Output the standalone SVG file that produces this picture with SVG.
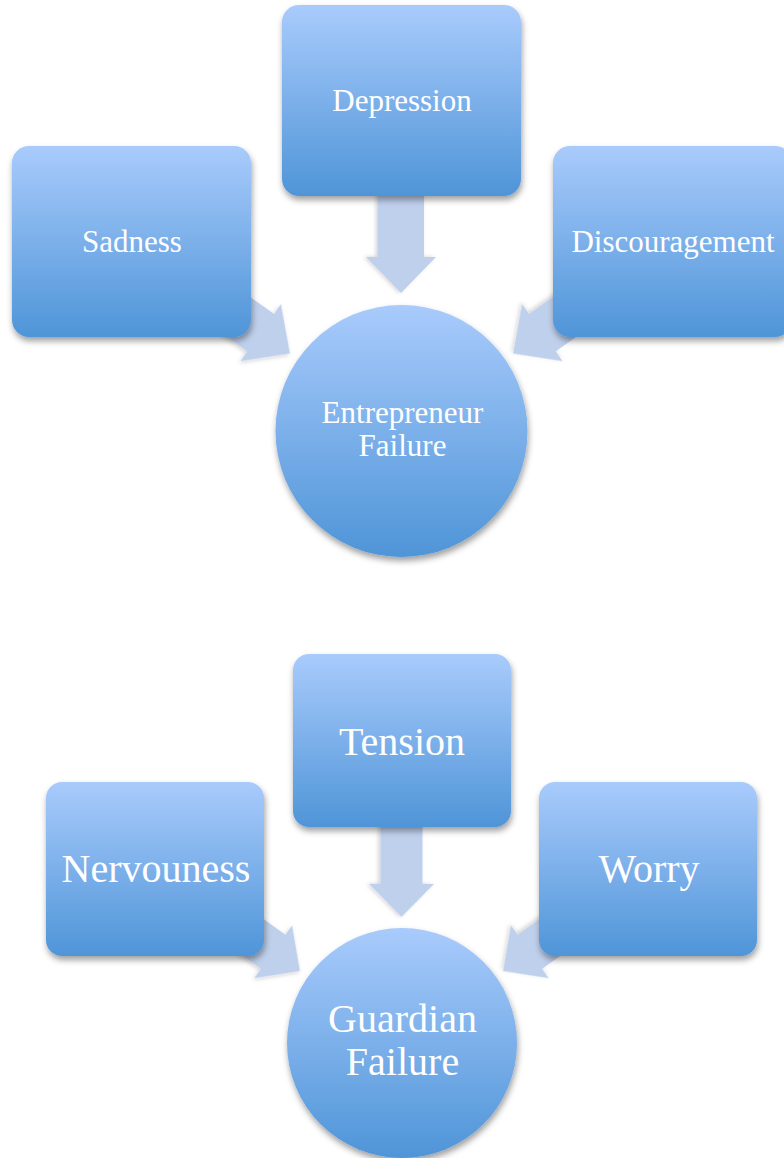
<svg xmlns="http://www.w3.org/2000/svg" width="784" height="1158" viewBox="0 0 784 1158">
<defs>
<linearGradient id="g" x1="0" y1="0" x2="0" y2="1">
<stop offset="0" stop-color="#a9cbfc"/>
<stop offset="1" stop-color="#4f95d8"/>
</linearGradient>
<filter id="sh" x="-20%" y="-20%" width="140%" height="140%">
<feDropShadow dx="1" dy="4" stdDeviation="3" flood-color="#000" flood-opacity="0.38"/>
</filter>
<filter id="sha" x="-20%" y="-20%" width="140%" height="140%">
<feDropShadow dx="0" dy="2" stdDeviation="2" flood-color="#000" flood-opacity="0.18"/>
</filter>
<path id="arrowA" d="M -110,-23 L -36,-23 L -36,-35 L 0,0 L -36,35 L -36,23 L -110,23 Z"/>
<path id="arrowB" d="M -100,-21 L -33,-21 L -33,-32.5 L 0,0 L -33,32.5 L -33,21 L -100,21 Z"/>
</defs>
<style>
.node { fill: url(#g); filter: url(#sh); }
.arr { fill: #bfd0ec; filter: url(#sha); }
.t1 { font-family: "Liberation Serif", "Times New Roman", serif; font-size: 31px; fill: #ffffff; text-anchor: middle; }
.t2 { font-family: "Liberation Serif", "Times New Roman", serif; font-size: 40px; fill: #ffffff; text-anchor: middle; }
</style>
<rect width="784" height="1158" fill="#ffffff"/>
<g id="connectors">
<use href="#arrowA" class="arr" transform="translate(401,293) rotate(90)"/>
<use href="#arrowA" class="arr" transform="translate(290,353.5) rotate(35.4)"/>
<use href="#arrowA" class="arr" transform="translate(513,353.5) rotate(144.6)"/>
<use href="#arrowB" class="arr" transform="translate(401.5,917) rotate(90)"/>
<use href="#arrowB" class="arr" transform="translate(300,971) rotate(35.6)"/>
<use href="#arrowB" class="arr" transform="translate(503,971) rotate(144.4)"/>
</g>
<g id="depression">
<rect class="node" x="282" y="5" width="239" height="191" rx="17"/>
<text class="t1" x="402" y="111">Depression</text>
</g>
<g id="sadness">
<rect class="node" x="12" y="146" width="239" height="191" rx="17"/>
<text class="t1" x="132" y="252">Sadness</text>
</g>
<g id="discouragement">
<rect class="node" x="553" y="146" width="239" height="191" rx="17"/>
<text class="t1" x="673" y="252">Discouragement</text>
</g>
<g id="entrepreneur-failure">
<circle class="node" cx="401.5" cy="431" r="126"/>
<text class="t1" x="402.5" y="423">Entrepreneur</text>
<text class="t1" x="402.5" y="456">Failure</text>
</g>
<g id="tension">
<rect class="node" x="293" y="654" width="218" height="173" rx="16"/>
<text class="t2" x="402" y="755">Tension</text>
</g>
<g id="nervouness">
<rect class="node" x="46" y="782" width="218" height="174" rx="16"/>
<text class="t2" x="156" y="882">Nervouness</text>
</g>
<g id="worry">
<rect class="node" x="539" y="782" width="218" height="174" rx="16"/>
<text class="t2" x="649" y="882">Worry</text>
</g>
<g id="guardian-failure">
<circle class="node" cx="402" cy="1043" r="115"/>
<text class="t2" x="402.5" y="1032">Guardian</text>
<text class="t2" x="402.5" y="1075">Failure</text>
</g>
</svg>
